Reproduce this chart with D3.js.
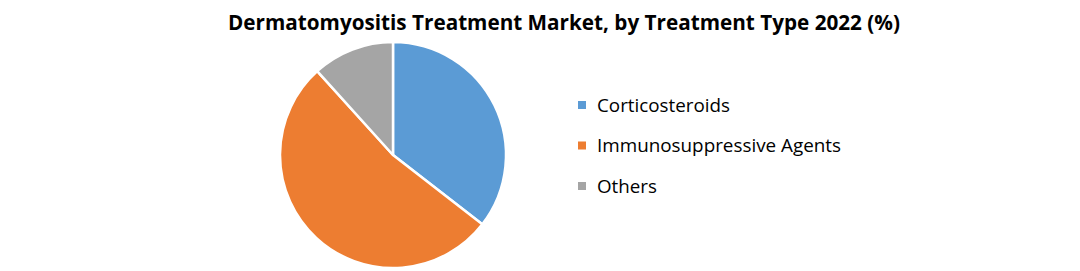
<!DOCTYPE html>
<html><head><meta charset="utf-8">
<script src="https://cdn.jsdelivr.net/npm/d3@7"></script>
<style>body{margin:0;background:#fff;} svg{display:block;}</style>
</head><body>
<svg id="c" width="1080" height="271"></svg>
<script>
const categories = ["Corticosteroids", "Immunosuppressive Agents", "Others"];
const values = [35.5, 52.8, 11.7];
const colors = ["#5b9bd5", "#ed7d31", "#a5a5a5"];
const title = "Dermatomyositis Treatment Market, by Treatment Type 2022 (%)";

const svg = d3.select("#c");
const font = "'Open Sans', 'Liberation Sans', sans-serif";

svg.append("text").attr("x", 564).attr("y", 30).attr("text-anchor", "middle")
  .attr("font-family", font).attr("font-weight", "bold").attr("font-size", 22)
  .attr("textLength", 672).attr("lengthAdjust", "spacingAndGlyphs")
  .attr("fill", "#000").text(title);

const cx = 393, cy = 155, r = 113;
const pie = d3.pie().sort(null).value(d => d);
const arc = d3.arc().innerRadius(0).outerRadius(r);
svg.append("g").attr("transform", `translate(${cx},${cy})`)
  .selectAll("path").data(pie(values)).join("path")
  .attr("d", arc).attr("fill", (d, i) => colors[i])
  .attr("stroke", "#fff").attr("stroke-width", 2.5).attr("stroke-linejoin", "round");

const ly = d3.scalePoint().domain(categories).range([105, 186]);
const legendWidths = [133, 244, 60];
const lg = svg.append("g");
categories.forEach((c, i) => {
  lg.append("rect").attr("x", 578).attr("y", ly(c) - 4).attr("width", 8).attr("height", 8).attr("fill", colors[i]);
  lg.append("text").attr("x", 597).attr("y", ly(c)).attr("dy", "0.36em")
    .attr("font-family", font).attr("font-size", 18.5).attr("fill", "#000")
    .attr("textLength", legendWidths[i]).attr("lengthAdjust", "spacingAndGlyphs").text(c);
});
</script>
</body></html>
